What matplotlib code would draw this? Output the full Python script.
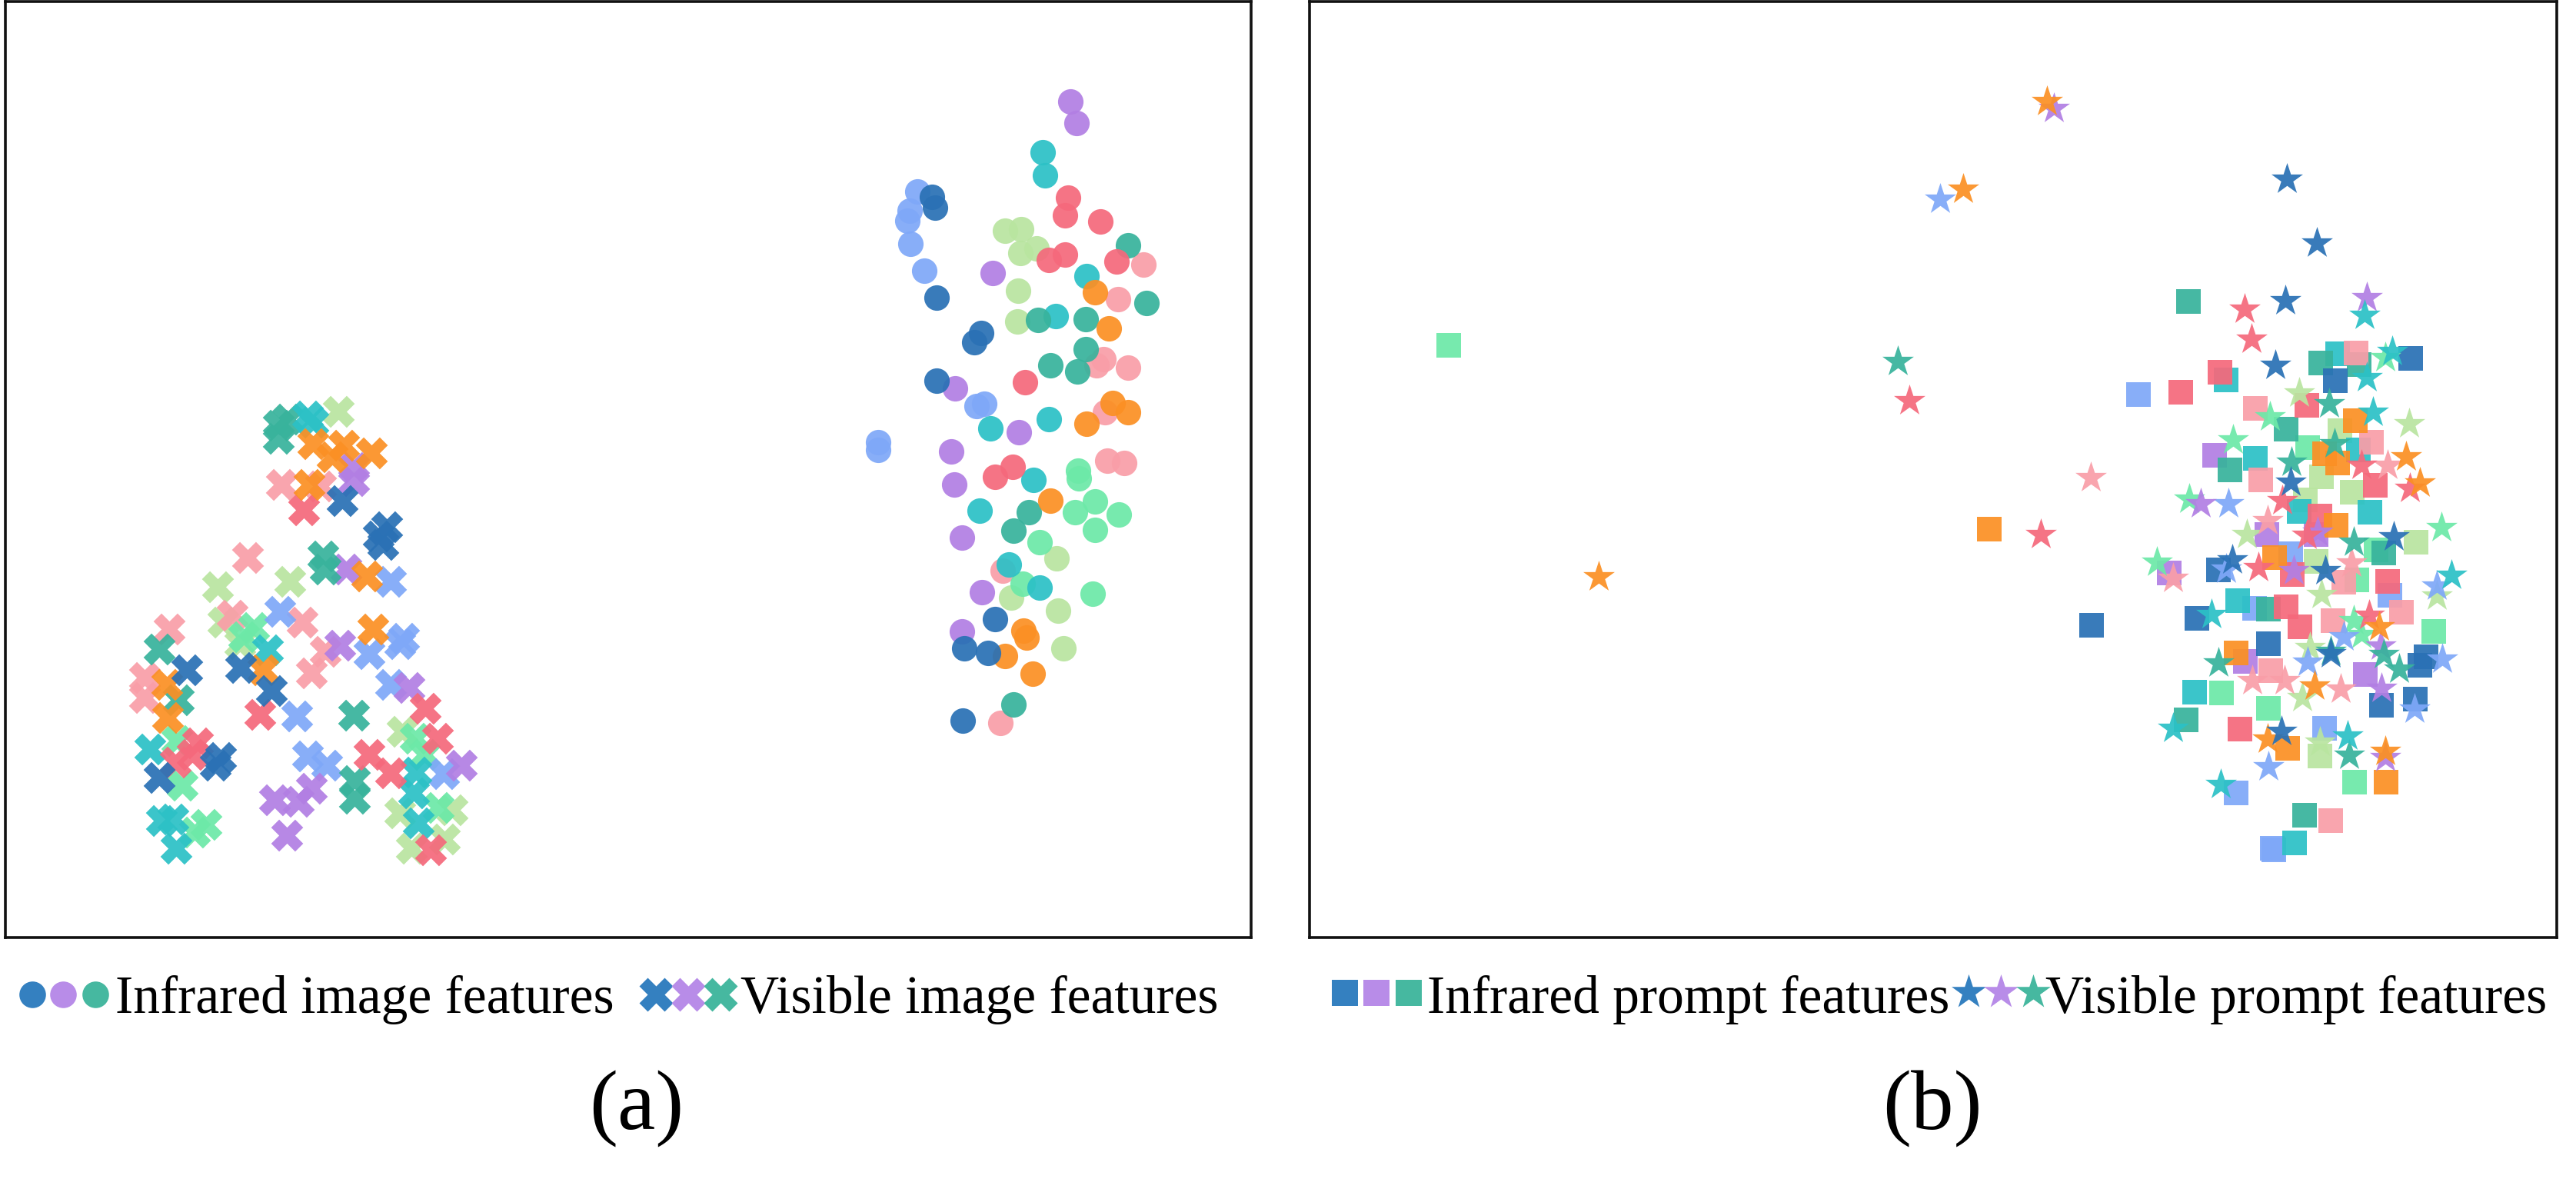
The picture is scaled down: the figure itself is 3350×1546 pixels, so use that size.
import matplotlib
matplotlib.use("Agg")
import matplotlib.pyplot as plt

plt.rcParams["font.family"] = ["Liberation Serif", "DejaVu Serif"]

W, H = 3350, 1546
DPI = 100

# colours of the ten classes
BLUE = "#2a71b5"
PURPLE = "#b27fe3"
TEAL = "#38b39c"
CYAN = "#2cc1c6"
CORAL = "#f5697c"
SKY = "#7fa8f8"
PINK = "#f99ea8"
LIME = "#b9e5a0"
ORANGE = "#fb9024"
MINT = "#6de9a8"

# panel (a) infrared image features, dots
a_dot_purple = [(1392,132),(1400,160),(1291,355),(1242,505),(1325,562),(1237,587),(1241,630),(1251,699),(1277,770),(1251,821)]
a_dot_cyan = [(1356,198),(1359,228),(1413,359),(1373,411),(1288,557),(1364,545),(1344,624),(1274,664),(1312,734),(1352,764)]
a_dot_coral = [(1389,257),(1385,280),(1431,288),(1364,338),(1385,331),(1452,340),(1333,497),(1317,607),(1294,620)]
a_dot_blue = [(1212,256),(1216,270),(1218,387),(1276,433),(1267,445),(1218,495),(1294,805),(1254,843),(1285,849),(1252,937)]
a_dot_sky = [(1193,249),(1183,274),(1180,287),(1184,317),(1202,352),(1270,528),(1280,525),(1142,575),(1142,585)]
a_dot_lime = [(1307,300),(1328,298),(1348,323),(1327,329),(1324,378),(1323,418),(1374,726),(1315,777),(1376,794),(1383,843)]
a_dot_teal = [(1467,319),(1491,394),(1412,415),(1350,416),(1412,454),(1366,475),(1401,483),(1338,666),(1318,690),(1318,916)]
a_dot_pink = [(1487,344),(1454,389),(1435,467),(1426,475),(1467,478),(1437,536),(1440,599),(1462,602),(1304,742),(1301,940)]
a_dot_orange = [(1424,380),(1442,427),(1447,524),(1467,536),(1413,551),(1366,651),(1331,820),(1335,829),(1307,853),(1343,876)]
a_dot_mint = [(1402,612),(1403,622),(1424,652),(1398,666),(1455,669),(1424,689),(1352,705),(1330,759),(1421,772)]

# panel (a) visible image features, crosses
a_cross_teal = [(374,545),(362,553),(362,570),(420,723),(423,740),(207,844),(232,910),(460,930),(461,1015),(461,1038)]
a_cross_cyan = [(400,541),(407,549),(348,845),(195,974),(210,1067),(225,1065),(229,1103),(541,1004),(538,1031),(544,1070)]
a_cross_lime = [(440,535),(283,763),(377,756),(290,809),(312,837),(523,951),(520,1057),(588,1053),(535,1103),(578,1091)]
a_cross_orange = [(407,577),(447,579),(432,594),(483,589),(402,630),(477,749),(485,818),(342,871),(217,890),(218,933)]
a_cross_pink = [(366,630),(417,632),(322,725),(302,800),(393,809),(220,818),(423,847),(405,875),(188,881),(188,907)]
a_cross_purple = [(460,608),(460,625),(450,740),(442,839),(532,894),(357,1040),(388,1042),(405,1025),(600,995),(373,1086)]
a_cross_blue = [(445,651),(503,685),(492,697),(498,708),(243,871),(313,868),(353,898),(207,1011),(287,985),(280,995)]
a_cross_coral = [(395,663),(338,929),(553,921),(569,960),(257,966),(250,981),(228,991),(480,981),(508,1005),(560,1105)]
a_cross_sky = [(364,795),(508,756),(520,837),(480,850),(508,890),(386,931),(400,983),(425,995),(577,1006),(525,830)]
a_cross_mint = [(330,816),(317,828),(540,960),(552,981),(237,1021),(268,1072),(253,1082),(570,1050),(230,963)]

# panel (b) infrared prompt features, squares
b_square_teal = [(2846,392),(3018,472),(3068,474),(2973,558),(2900,611),(2950,792),(3100,719),(2997,1060),(2843,936)]
b_square_cyan = [(3040,460),(2895,494),(2933,596),(2990,665),(3082,666),(2910,781),(2854,900),(2984,1096),(3067,585)]
b_square_blue = [(3135,466),(3037,495),(2885,741),(2857,804),(2950,837),(3155,854),(3147,865),(3097,917),(3141,909),(2720,813)]
b_square_coral = [(2887,484),(2836,510),(3000,527),(3017,671),(3089,631),(2981,747),(3105,756),(2973,789),(2991,815),(2913,948)]
b_square_pink = [(3064,459),(2933,531),(3084,575),(2940,624),(3048,757),(3034,807),(3123,796),(2953,872),(3031,1067)]
b_square_orange = [(3063,547),(3023,590),(3040,602),(3038,683),(2958,725),(2908,849),(2975,973),(3103,1017),(2587,688)]
b_square_lime = [(3043,560),(3019,620),(2998,650),(3059,640),(3142,705),(3012,730),(3017,983)]
b_square_mint = [(3001,582),(3090,715),(3065,754),(3165,821),(2889,901),(2950,921),(3062,1017),(1884,449)]
b_square_purple = [(2880,592),(2948,695),(3012,695),(2821,745),(2920,860),(3076,877)]
b_square_sky = [(2781,513),(2979,720),(2932,791),(3108,774),(2908,1031),(3023,947),(2955,1103),(2957,1105)]

# panel (b) visible prompt features, stars
b_star_coral = [(2919,402),(2928,441),(3071,605),(3134,635),(2968,651),(3000,696),(2937,738),(3081,800),(2483,521),(2654,695)]
b_star_pink = [(3105,605),(2949,677),(3058,732),(2826,752),(2929,885),(2971,885),(3044,896),(2719,621)]
b_star_cyan = [(3075,410),(3111,457),(3078,491),(3086,536),(2876,799),(3188,748),(2826,947),(3053,957),(2888,1020)]
b_star_mint = [(3102,465),(2952,542),(2904,572),(2847,649),(2805,731),(3175,686),(3061,807),(3071,825)]
b_star_teal = [(3029,525),(2980,601),(3036,577),(3061,705),(2885,862),(3100,851),(3120,870),(3055,982),(3031,847),(2468,470)]
b_star_blue = [(2972,391),(2959,475),(2979,627),(3113,698),(2903,728),(3024,742),(3031,850),(2967,951),(2974,233),(3013,316)]
b_star_lime = [(2990,511),(3133,551),(2922,695),(3019,773),(3004,842),(3169,775),(2994,907),(3017,965)]
b_star_sky = [(2898,655),(3169,762),(3048,828),(3001,861),(3176,857),(3140,922),(2950,997),(2895,740),(2523,259)]
b_star_purple = [(3078,387),(2862,655),(3014,692),(3096,840),(3097,895),(3102,985),(2983,742),(2671,141)]
b_star_orange = [(3129,594),(3147,628),(3094,815),(3010,892),(2949,961),(3102,977),(2662,132),(2553,246),(2079,750)]

legend_a = ["Infrared image features", "Visible image features"]
legend_b = ["Infrared prompt features", "Visible prompt features"]
panel_names = ["(a)", "(b)"]


def make_panel(left, right, top, bottom):
    ax = fig.add_axes([left / W, 1 - bottom / H, (right - left) / W, (bottom - top) / H])
    ax.set_xlim(left, right)
    ax.set_ylim(bottom, top)
    ax.set_xticks([])
    ax.set_yticks([])
    for s in ax.spines.values():
        s.set_linewidth(2.6)
        s.set_color("#111111")
    return ax


def draw(ax, points, color, marker, size, alpha=0.93):
    xs = [p[0] for p in points]
    ys = [p[1] for p in points]
    ax.scatter(xs, ys, s=size, c=color, marker=marker, alpha=alpha, linewidths=0)


fig = plt.figure(figsize=(W / DPI, H / DPI), dpi=DPI, facecolor="white")

ax1 = make_panel(7, 1627, 2, 1219)
ax2 = make_panel(1703, 3325, 2, 1219)

s_dot = 570
s_cross = 900
s_square = 550
s_star = 960

for pts, col in [(a_dot_pink, PINK), (a_dot_lime, LIME), (a_dot_mint, MINT), (a_dot_sky, SKY), (a_dot_purple, PURPLE),
                 (a_dot_cyan, CYAN), (a_dot_teal, TEAL), (a_dot_coral, CORAL), (a_dot_orange, ORANGE), (a_dot_blue, BLUE)]:
    draw(ax1, pts, col, "o", s_dot)

for pts, col in [(a_cross_lime, LIME), (a_cross_pink, PINK), (a_cross_mint, MINT), (a_cross_sky, SKY), (a_cross_purple, PURPLE),
                 (a_cross_teal, TEAL), (a_cross_cyan, CYAN), (a_cross_coral, CORAL), (a_cross_orange, ORANGE), (a_cross_blue, BLUE)]:
    draw(ax1, pts, col, "X", s_cross)

for pts, col in [(b_square_mint, MINT), (b_square_lime, LIME), (b_square_purple, PURPLE), (b_square_sky, SKY), (b_square_cyan, CYAN),
                 (b_square_teal, TEAL), (b_square_pink, PINK), (b_square_coral, CORAL), (b_square_orange, ORANGE), (b_square_blue, BLUE)]:
    draw(ax2, pts, col, "s", s_square)

for pts, col in [(b_star_lime, LIME), (b_star_pink, PINK), (b_star_mint, MINT), (b_star_sky, SKY), (b_star_purple, PURPLE),
                 (b_star_coral, CORAL), (b_star_teal, TEAL), (b_star_cyan, CYAN), (b_star_orange, ORANGE), (b_star_blue, BLUE)]:
    draw(ax2, pts, col, "*", s_star)

# hand made legends under the panels, on an overlay in pixel units
ov = fig.add_axes([0, 0, 1, 1], zorder=-1)
ov.set_xlim(0, W)
ov.set_ylim(H, 0)
ov.axis("off")

leg_cols = ["#3480c0", "#b88ce8", "#46b8a0"]
for x, c in zip([42, 82, 124], leg_cols):
    ov.scatter([x], [1293], s=620, c=c, marker="o", linewidths=0)
for x, c in zip([853, 895, 937], leg_cols):
    ov.scatter([x], [1293], s=1000, c=c, marker="X", linewidths=0)
for x, c in zip([1749, 1790, 1832], leg_cols):
    ov.scatter([x], [1291], s=620, c=c, marker="s", linewidths=0)
for x, c in zip([2560, 2602, 2644], leg_cols):
    ov.scatter([x], [1290], s=1150, c=c, marker="*", linewidths=0)

fs = 50
ov.text(150, 1293, legend_a[0], fontsize=fs, va="center_baseline", ha="left")
ov.text(963, 1293, legend_a[1], fontsize=fs, va="center_baseline", ha="left")
ov.text(1856, 1293, legend_b[0], fontsize=fs, va="center_baseline", ha="left")
ov.text(2660, 1293, legend_b[1], fontsize=fs, va="center_baseline", ha="left")
ov.text(828, 1442, panel_names[0], fontsize=80, va="center", ha="center")
ov.text(2513, 1442, panel_names[1], fontsize=80, va="center", ha="center")

fig.savefig("out.png", dpi=DPI, facecolor="white")
